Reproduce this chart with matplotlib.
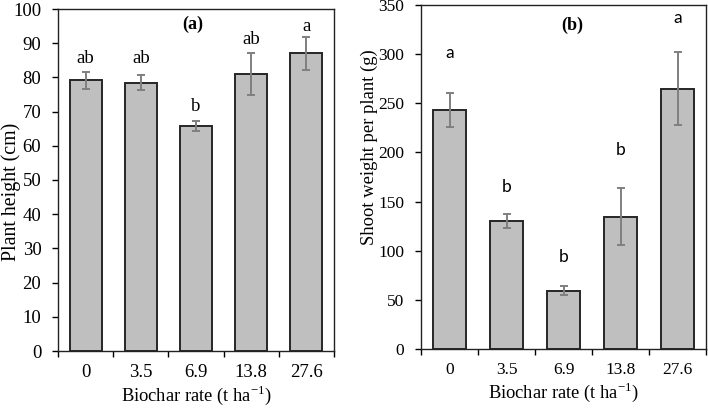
import matplotlib.pyplot as plt
import numpy as np

plt.rcParams['font.family'] = ['Liberation Serif', 'DejaVu Serif']

# данные
rates = ['0', '3.5', '6.9', '13.8', '27.6']

height = [79.2, 78.5, 65.7, 81.0, 87.1]
height_err = [2.5, 2.3, 1.5, 6.0, 4.8]
height_letters = ['ab', 'ab', 'b', 'ab', 'a']
height_letter_y = [85.6, 85.6, 71.4, 91.2, 95.0]

shoot = [243, 130.6, 59.5, 134.7, 265]
shoot_err = [17, 7, 5, 29, 37.5]
shoot_letters = ['a', 'b', 'b', 'b', 'a']
shoot_letter_y = [301, 165, 94, 202, 337]

bar_color = '#bfbfbf'
edge_color = '#262626'
err_color = '#7f7f7f'

fig = plt.figure(figsize=(7.08, 4.09), dpi=100)
ax1 = fig.add_axes([58 / 708, 1 - 351 / 409, 276 / 708, 342 / 409])
ax2 = fig.add_axes([421 / 708, 1 - 349 / 409, 285 / 708, 344 / 409])

x = np.arange(len(rates))


def draw(ax, vals, errs, ylim, step, ylabel, ylabel_size, tick_size, ylab_xy):
    ax.bar(x, vals, width=0.58, color=bar_color, edgecolor=edge_color, linewidth=1.4, zorder=2)
    ax.errorbar(x, vals, yerr=errs, fmt='none', ecolor=err_color, elinewidth=1.4,
                capsize=3, capthick=1.4, zorder=3)
    ax.set_xlim(-0.5, 4.5)
    ax.set_ylim(0, ylim)
    ax.set_yticks(np.arange(0, ylim + 1, step))
    ax.set_xticks(x)
    ax.set_xticklabels(rates)
    ax.set_xticks(np.arange(-0.5, 5, 1), minor=True)
    ax.tick_params(axis='x', which='major', length=0, pad=9.5, labelsize=tick_size)
    ax.tick_params(axis='x', which='minor', length=4, direction='out', width=1)
    ax.tick_params(axis='y', length=4.5, direction='out', width=1, labelsize=tick_size, pad=7.5)
    for s in ax.spines.values():
        s.set_linewidth(1)
        s.set_color('#222222')
    ax.set_xlabel('Biochar rate (t ha$^{\\mathregular{-1}}$)', fontsize=13.3, labelpad=2)
    ax.set_ylabel(ylabel, fontsize=ylabel_size)
    ax.yaxis.set_label_coords(*ylab_xy)


draw(ax1, height, height_err, 100, 10, 'Plant height (cm)', 14.3, 13.5, (-0.135, 0.465))
draw(ax2, shoot, shoot_err, 350, 50, 'Shoot weight per plant (g)', 13.4, 12.5, (-0.15, 0.587))

for i in range(len(rates)):
    ax1.text(x[i], height_letter_y[i], height_letters[i], ha='center', va='center', fontsize=13.5)
    ax2.text(x[i], shoot_letter_y[i], shoot_letters[i], ha='center', va='center',
             fontsize=12.5, family=['Lato', 'DejaVu Sans'])

ax1.text(1.95, 95.5, '(a)', ha='center', va='center', fontsize=13, fontweight='bold')
ax2.text(2.16, 329, '(b)', ha='center', va='center', fontsize=13, fontweight='bold')

fig.savefig('out.png', dpi=100)
